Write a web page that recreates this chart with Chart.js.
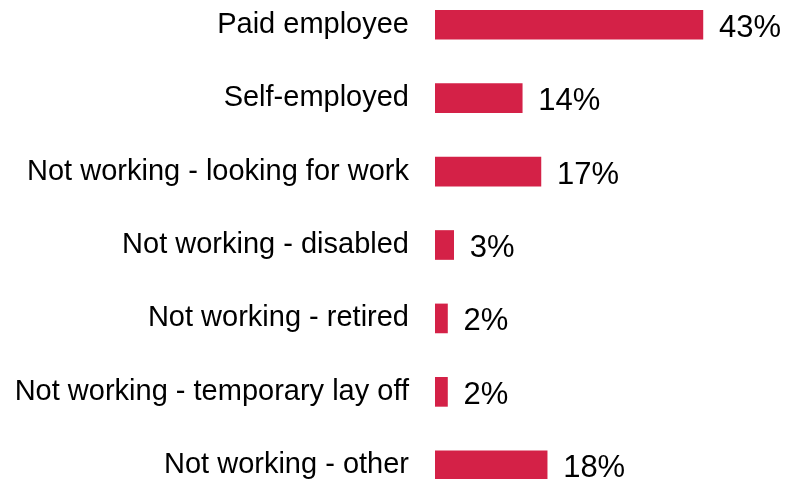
<!DOCTYPE html>
<html>
<head>
<meta charset="utf-8">
<script src="https://cdn.jsdelivr.net/npm/chart.js@4"></script>
<style>
  html, body { margin: 0; padding: 0; background: #fff; overflow: hidden; }
  #wrap { position: absolute; left: 0; top: -12px; width: 788px; height: 514px; }
</style>
</head>
<body>
<div id="wrap"><canvas id="chart" width="788" height="514"></canvas></div>
<script>
const categories = [
  "Paid employee",
  "Self-employed",
  "Not working - looking for work",
  "Not working - disabled",
  "Not working - retired",
  "Not working - temporary lay off",
  "Not working - other"
];
const values = [43, 14, 17, 3, 2, 2, 18];
const barColor = "#D42147";

// draws "43%" etc. to the right of each bar
const valueLabels = {
  id: 'valueLabels',
  afterDatasetsDraw(chart) {
    const ctx = chart.ctx;
    const meta = chart.getDatasetMeta(0);
    ctx.save();
    ctx.font = '31px "Liberation Sans", Arial, sans-serif';
    ctx.fillStyle = '#000';
    ctx.textAlign = 'left';
    ctx.textBaseline = 'alphabetic';
    meta.data.forEach((bar, i) => {
      ctx.fillText(values[i] + '%', bar.x + 16, bar.y + 12);
    });
    ctx.restore();
  }
};

const chart = new Chart(document.getElementById('chart'), {
  type: 'bar',
  data: {
    labels: categories,
    datasets: [{
      data: values,
      backgroundColor: barColor,
      barThickness: 29
    }]
  },
  options: {
    indexAxis: 'y',
    responsive: false,
    animation: false,
    events: [],
    layout: { padding: 0 },
    plugins: {
      legend: { display: false },
      tooltip: { enabled: false }
    },
    scales: {
      x: {
        display: false,
        min: 0,
        max: 56.66
      },
      y: {
        grid: { display: false, drawTicks: false },
        border: { display: false },
        ticks: {
          color: '#000',
          padding: 26,
          font: { family: '"Liberation Sans", Arial, sans-serif', size: 29 }
        },
        afterFit(scale) {
          scale.width = 435;
          scale.paddingTop = 0;
          scale.paddingBottom = 0;
        }
      }
    }
  },
  plugins: [valueLabels]
});
</script>
</body>
</html>
